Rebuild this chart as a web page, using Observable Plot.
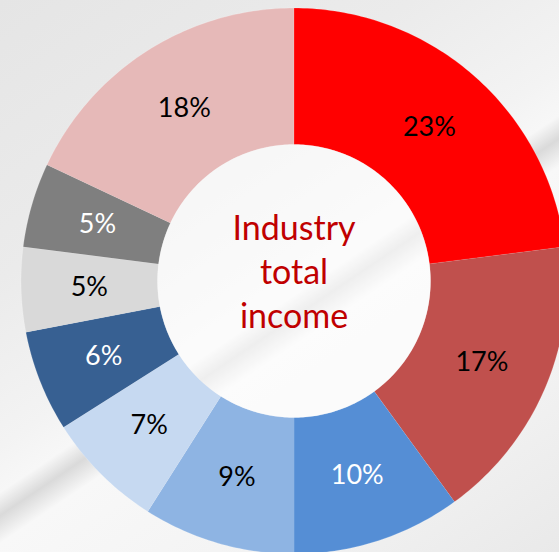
<!DOCTYPE html>
<html><head><meta charset="utf-8">
<script src="https://cdn.jsdelivr.net/npm/d3@7"></script>
<script src="https://cdn.jsdelivr.net/npm/@observablehq/plot@0.6"></script>
<style>
html,body{margin:0;padding:0;overflow:hidden;width:559px;height:552px;}
body{background: linear-gradient(146deg, #e5e5e5 0%, #ebebeb 30%, #f3f3f3 48%, #f7f7f7 53%, #dadada 55.5%, #f8f8f8 58.5%, #f4f4f4 75%, #e9e9e9 100%);}
#chart svg{display:block}
</style></head><body><div id="chart"></div>
<script>
// ---- data ----
const categories = ["A","B","C","D","E","F","G","H","I"];
const values = [23, 17, 10, 9, 7, 6, 5, 5, 18];
const sliceColors = ["#FF0000","#C0504D","#558ED5","#8EB4E3","#C6D9F1","#376092","#D9D9D9","#7F7F7F","#E6B9B8"];
const labelColors = ["#000000","#000000","#ffffff","#000000","#000000","#ffffff","#000000","#ffffff","#000000"];
const centerText = ["Industry", "total", "income"];

// ---- layout ----
const W = 559, H = 552;
const cx = 293.5, cy = 280.5, R = 273; // pixel center and outer radius
const inner = 0.5, labelR = 0.75;

const pie = d3.pie().sort(null).value(d => d)(values);
const slices = [];
pie.forEach((p, i) => {
  const n = Math.max(8, Math.round((p.endAngle - p.startAngle) * 60));
  for (let k = 0; k <= n; k++) {
    const a = p.startAngle + (p.endAngle - p.startAngle) * k / n;
    slices.push({key: categories[i], color: sliceColors[i], x: Math.sin(a), y: Math.cos(a)});
  }
  for (let k = n; k >= 0; k--) {
    const a = p.startAngle + (p.endAngle - p.startAngle) * k / n;
    slices.push({key: categories[i], color: sliceColors[i], x: inner * Math.sin(a), y: inner * Math.cos(a)});
  }
});
const hole = d3.range(0, 181).map(k => {
  const a = 2 * Math.PI * k / 180;
  return {x: inner * Math.sin(a), y: inner * Math.cos(a)};
});
const labelData = pie.map((p, i) => {
  const a = (p.startAngle + p.endAngle) / 2;
  return {text: values[i] + "%", color: labelColors[i], x: labelR * Math.sin(a), y: labelR * Math.cos(a)};
});

const chart = Plot.plot({
  width: W, height: H,
  margin: 0,
  x: {domain: [-cx / R, (W - cx) / R], axis: null},
  y: {domain: [-(H - cy) / R, cy / R], axis: null},
  color: {type: "identity"},
  style: {background: "transparent", fontFamily: "Lato, 'Open Sans', sans-serif"},
  marks: [
    Plot.line(slices, {x: "x", y: "y", z: "key", fill: "color", stroke: "#ffffff", strokeOpacity: 0.3, strokeWidth: 0.6, curve: "linear"}),
    Plot.line(hole, {x: "x", y: "y", fill: "#ffffff", fillOpacity: 0.55, stroke: "none"}),
    Plot.text(labelData, {x: "x", y: "y", text: "text", fill: "color", fontSize: 27}),
    Plot.text([centerText.join("\n")], {x: 0, y: 0, text: d => d, fill: "#C00000", fontSize: 34, lineHeight: 1.3, dy: -11})
  ]
});
document.getElementById("chart").appendChild(chart);
</script>
</body></html>
